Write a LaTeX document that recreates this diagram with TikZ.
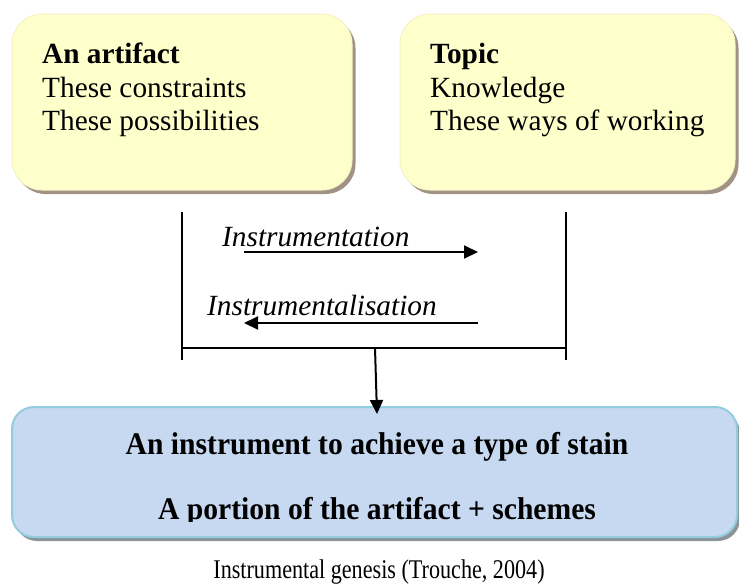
\documentclass[tikz,border=0pt]{standalone}
\usepackage{fontspec}
\setmainfont{Liberation Serif}
\usetikzlibrary{arrows.meta,shadows}

\definecolor{notefill}{HTML}{FFFFCC}
\definecolor{noteedge}{HTML}{F4F2C4}
\definecolor{noteshadow}{HTML}{A09284}
\definecolor{instfill}{HTML}{C6D9F1}
\definecolor{instedge}{HTML}{93CDDD}
\definecolor{instshadow}{HTML}{8C9497}

\tikzset{
  notebox/.style={rectangle, rounded corners=30pt, fill=notefill, draw=noteedge,
    line width=1pt, inner sep=0pt,
    drop shadow={shadow xshift=3.5pt, shadow yshift=-4pt, fill=noteshadow, opacity=1}},
  instbox/.style={rectangle, rounded corners=22pt, fill=instfill, draw=instedge,
    line width=2pt, inner sep=0pt,
    drop shadow={shadow xshift=3pt, shadow yshift=-4pt, fill=instshadow, opacity=1}},
  notetext/.style={anchor=north west, align=left, inner sep=0pt,
    font=\fontsize{29.3}{33.5}\selectfont},
  flowtext/.style={anchor=base west, inner sep=0pt,
    font=\fontsize{29.3}{32}\selectfont\itshape},
  insttext/.style={anchor=base, inner sep=0pt, xscale=0.94,
    font=\fontsize{31.5}{34}\selectfont\bfseries},
  frame/.style={line width=1.4pt},
  flow/.style={line width=2pt, -{Triangle[length=14pt,width=13pt]}},
}

\begin{document}
\begin{tikzpicture}[x=1pt,y=-1pt]
\useasboundingbox (0,0) rectangle (739,587);

% the two starting boxes
\node[notebox, minimum width=340pt, minimum height=176pt] (artifact) at (182,102) {};
\node[notebox, minimum width=335pt, minimum height=176pt] (topic) at (567.5,102) {};

\node[notetext] (artifacttext) at (42,43)
  {\textbf{An artifact}\\These constraints\\These possibilities};
\node[notetext] (topictext) at (430,43)
  {\textbf{Topic}\\Knowledge\\These ways of working};

% the resulting instrument
\node[instbox, minimum width=725pt, minimum height=130pt] (instrument) at (374.5,472) {};
\node[insttext] (instline1) at (377,454) {An instrument to achieve a type of stain};
\begin{scope}
  % the second line is cut off just under its baseline
  \clip (0,0) rectangle (739,521);
  \node[insttext] (instline2) at (377,519) {A portion of the artifact + schemes};
\end{scope}

% bracket joining the two processes
\coordinate (lt) at (182,212);
\coordinate (lb) at (182,360);
\coordinate (rt) at (566,212);
\coordinate (rb) at (566,360);
\coordinate (lm) at (182,348);
\coordinate (rm) at (566,348);
\coordinate (outtop) at (375,348);
\coordinate (outtip) at (377,414);
\draw[frame] (lt) -- (lb);
\draw[frame] (rt) -- (rb);
\draw[frame] (lm) -- (rm);
\draw[flow] (outtop) -- (outtip);

% the two processes
\node[flowtext] (instrumentation) at (222,246) {Instrumentation};
\coordinate (a1s) at (244,252);
\coordinate (a1e) at (478,252);
\draw[flow] (a1s) -- (a1e);

\node[flowtext] (instrumentalisation) at (207,315) {Instrumentalisation};
\coordinate (a2s) at (478,323);
\coordinate (a2e) at (244,323);
\draw[flow] (a2s) -- (a2e);

% caption
\node[anchor=base, inner sep=0pt, xscale=0.82, font=\fontsize{27}{30}\selectfont] (caption) at (379,578)
  {Instrumental genesis (Trouche, 2004)};
\end{tikzpicture}
\end{document}
